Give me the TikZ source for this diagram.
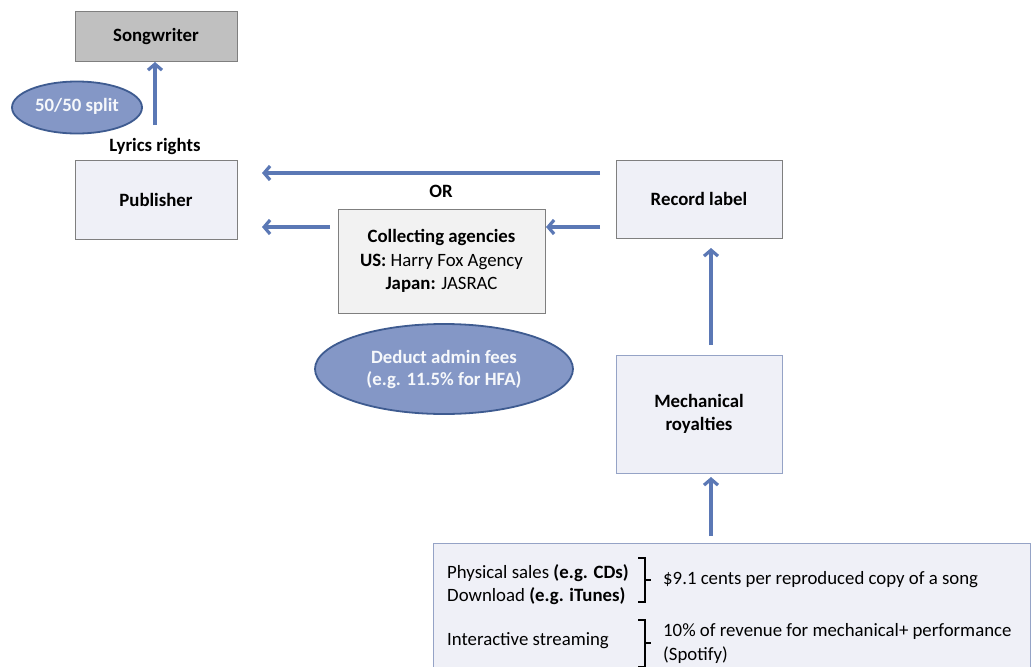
\documentclass[tikz,border=0pt]{standalone}
\usepackage{fontspec}
\setmainfont{Carlito}
\usetikzlibrary{arrows.meta,shapes.geometric}
\definecolor{arrowblue}{HTML}{5B78B5}
\definecolor{ellfill}{HTML}{8497C6}
\definecolor{elldraw}{HTML}{3E5B90}
\definecolor{lightbox}{HTML}{EFF0F7}
\definecolor{graybox}{HTML}{C0C0C0}
\definecolor{agencybox}{HTML}{F2F2F2}
\definecolor{boxline}{HTML}{7F7F7F}
\definecolor{blueline}{HTML}{95A3C6}
\tikzset{
  flow/.style={draw=arrowblue, line width=3.2pt, -{Straight Barb[length=6pt,width=14pt,line width=3.2pt]}},
  boxbase/.style={draw=boxline, line width=0.9pt, inner sep=0pt, font=\fontsize{18.8}{22}\selectfont\bfseries, align=center},
  oval/.style={ellipse, draw=elldraw, line width=1.8pt, fill=ellfill, text=white!93!ellfill, font=\fontsize{18.8}{22}\selectfont\bfseries, align=center, inner sep=0pt},
  plain/.style={font=\fontsize{18.8}{22}\selectfont, inner sep=0pt},
  brk/.style={draw=black, line width=1.2pt},
}
\begin{document}
\begin{tikzpicture}[x=1pt,y=-1pt]
\useasboundingbox (0,0) rectangle (1034,667);
% boxes
\node[boxbase, fill=graybox, minimum width=162pt, minimum height=50pt] (song) at (156,36) {Songwriter};
\node[boxbase, fill=lightbox, minimum width=162pt, minimum height=79pt] (pub) at (156,199.5) {Publisher};
\node[boxbase, fill=agencybox, minimum width=207pt, minimum height=104pt, font=\fontsize{18.8}{23.5}\selectfont] (agency) at (441.5,261) {\textbf{Collecting agencies}\\\textbf{US:} Harry Fox Agency\\\textbf{Japan:} JASRAC};
\node[boxbase, fill=lightbox, minimum width=166pt, minimum height=78pt] (label) at (699,199) {Record label};
\node[boxbase, draw=blueline, fill=lightbox, minimum width=166pt, minimum height=118pt, font=\fontsize{18.8}{23}\selectfont\bfseries] (mech) at (699,414) {Mechanical\\royalties};
\draw[draw=blueline, line width=0.9pt, fill=lightbox] (433,543) rectangle (1030,668);
% ellipses
\node[oval, minimum width=130pt, minimum height=52pt] (split) at (77,107.5) {\raisebox{5pt}{50/50 split}};
\node[oval, minimum width=258pt, minimum height=90pt] (fees) at (444,369) {Deduct admin fees\\(e.g. 11.5\% for HFA)};
% labels
\node[plain, font=\fontsize{18.8}{22}\selectfont\bfseries] (lyr) at (155,146) {Lyrics rights};
\node[plain, font=\fontsize{18.8}{22}\selectfont\bfseries] (or) at (441,191) {OR};
% arrows
\coordinate (a1s) at (155,125);
\coordinate (a1e) at (155,62);
\draw[flow] (a1s) -- (a1e);
\coordinate (t1) at (600,173);
\coordinate (t2) at (262,173);
\draw[flow] (t1) -- (t2);
\coordinate (l1) at (330,227);
\coordinate (l2) at (262,227);
\draw[flow] (l1) -- (l2);
\coordinate (r1) at (600,227);
\coordinate (r2) at (546,227);
\draw[flow] (r1) -- (r2);
\coordinate (m1) at (711,345);
\coordinate (m2) at (711,248);
\draw[flow] (m1) -- (m2);
\coordinate (b1) at (711,536);
\coordinate (b2) at (711,477);
\draw[flow] (b1) -- (b2);
% bottom texts
\node[plain, anchor=west] (ps) at (447,573) {Physical sales \textbf{(e.g. CDs)}};
\node[plain, anchor=west] (dl) at (447,596) {Download \textbf{(e.g. iTunes)}};
\node[plain, anchor=west] (cents) at (663,580) {\$9.1 cents per reproduced copy of a song};
\node[plain, anchor=west] (is) at (447,641) {Interactive streaming};
\node[plain, anchor=west] (rev) at (663,631) {10\% of revenue for mechanical+ performance};
\node[plain, anchor=west] (spot) at (663,655) {(Spotify)};
% brackets
\draw[brk] (638,558) -- (645,558) -- (645,602) -- (638,602);
\draw[brk] (645,580) -- (651,580);
\draw[brk] (638,620) -- (645,620) -- (645,667) -- (638,667);
\draw[brk] (645,643) -- (651,643);
\end{tikzpicture}
\end{document}
